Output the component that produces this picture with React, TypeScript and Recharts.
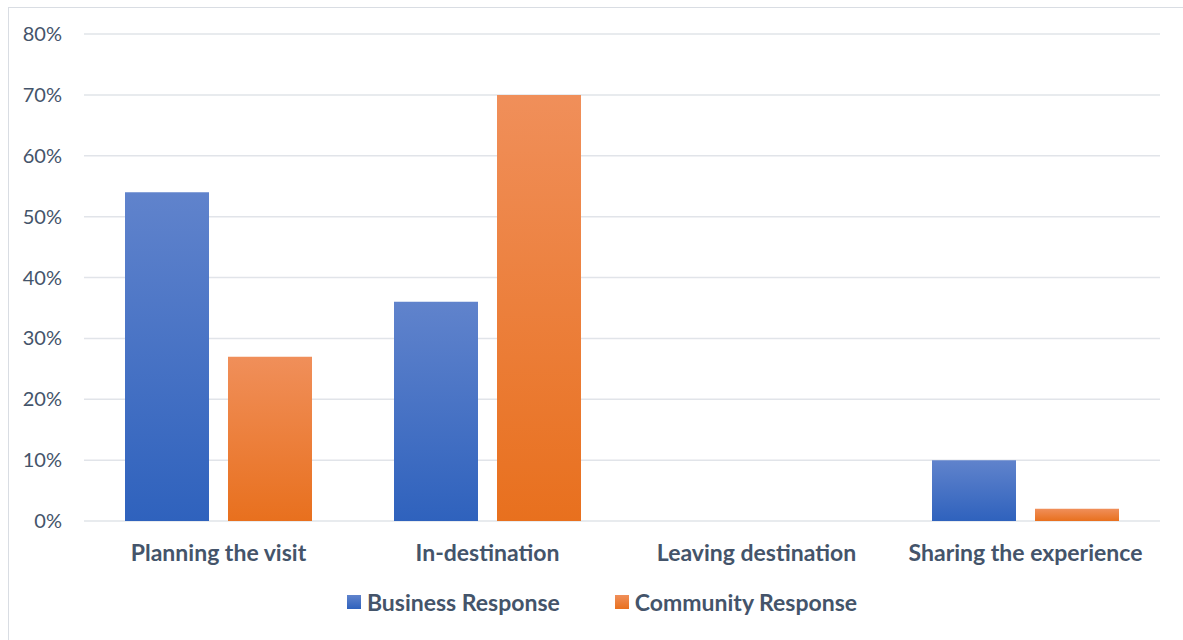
import React from 'react';
import { BarChart, Bar, XAxis, YAxis, CartesianGrid } from 'recharts';

const categories = ['Planning the visit', 'In-destination', 'Leaving destination', 'Sharing the experience'];
const businessValues = [0.54, 0.36, 0, 0.1];
const communityValues = [0.27, 0.7, 0, 0.02];
const yTicks = [0, 0.1, 0.2, 0.3, 0.4, 0.5, 0.6, 0.7, 0.8];

const data = categories.map((name, i) => ({
  name,
  business: businessValues[i],
  community: communityValues[i],
}));

const TEXT = '#44546a';
const FONT = 'Lato, "Open Sans", sans-serif';

function LegendContent() {
  const item = (grad: string, label: string) => (
    <div style={{ display: 'flex', alignItems: 'center', gap: 6 }}>
      <div style={{ width: 14, height: 14, background: grad }} />
      <span style={{ fontWeight: 700, fontSize: 23, color: TEXT, fontFamily: FONT, lineHeight: '26px' }}>{label}</span>
    </div>
  );
  return (
    <div style={{ position: 'absolute', left: 0, top: 589, width: 1183, display: 'flex', justifyContent: 'center', gap: 55, paddingLeft: 21, boxSizing: 'border-box' }}>
      {item('linear-gradient(#6083cc, #2f62bd)', 'Business Response')}
      {item('linear-gradient(#f08f5a, #e8701e)', 'Community Response')}
    </div>
  );
}

export default function App() {
  return (
    <div style={{ position: 'absolute', left: 0, top: 0, width: 1183, height: 640, background: '#fff', fontFamily: FONT, overflow: 'hidden' }}>
      <div style={{ position: 'absolute', left: 8, top: 7, width: 1180, height: 640, border: '1px solid #d9dde3', boxSizing: 'border-box' }} />
      <BarChart
        width={1183}
        height={640}
        data={data}
        margin={{ top: 34, right: 23, left: 0, bottom: 74 }}
        barGap={19}
        barCategoryGap={41}
        style={{ position: 'absolute', left: 0, top: 0 }}
      >
        <defs>
          <linearGradient id="gBlue" x1="0" y1="0" x2="0" y2="1">
            <stop offset="0%" stopColor="#6083cc" />
            <stop offset="100%" stopColor="#2f62bd" />
          </linearGradient>
          <linearGradient id="gOrange" x1="0" y1="0" x2="0" y2="1">
            <stop offset="0%" stopColor="#f08f5a" />
            <stop offset="100%" stopColor="#e8701e" />
          </linearGradient>
        </defs>
        <CartesianGrid vertical={false} stroke="#e1e4e9" strokeWidth={1.5} />
        <XAxis
          dataKey="name"
          axisLine={false}
          tickLine={false}
          tickSize={0}
          tickMargin={24}
          height={45}
          interval={0}
          tick={{ fontSize: 23, fontWeight: 700, fill: TEXT, fontFamily: FONT }}
        />
        <YAxis
          domain={[0, 0.8]}
          ticks={yTicks}
          width={84}
          axisLine={false}
          tickLine={false}
          tickSize={0}
          tickMargin={22}
          tickFormatter={(v: number) => `${Math.round(v * 100)}%`}
          tick={{ fontSize: 20, fill: TEXT, fontFamily: FONT }}
        />
        <Bar dataKey="business" name="Business Response" fill="url(#gBlue)" isAnimationActive={false} />
        <Bar dataKey="community" name="Community Response" fill="url(#gOrange)" isAnimationActive={false} />
      </BarChart>
      <LegendContent />
    </div>
  );
}
